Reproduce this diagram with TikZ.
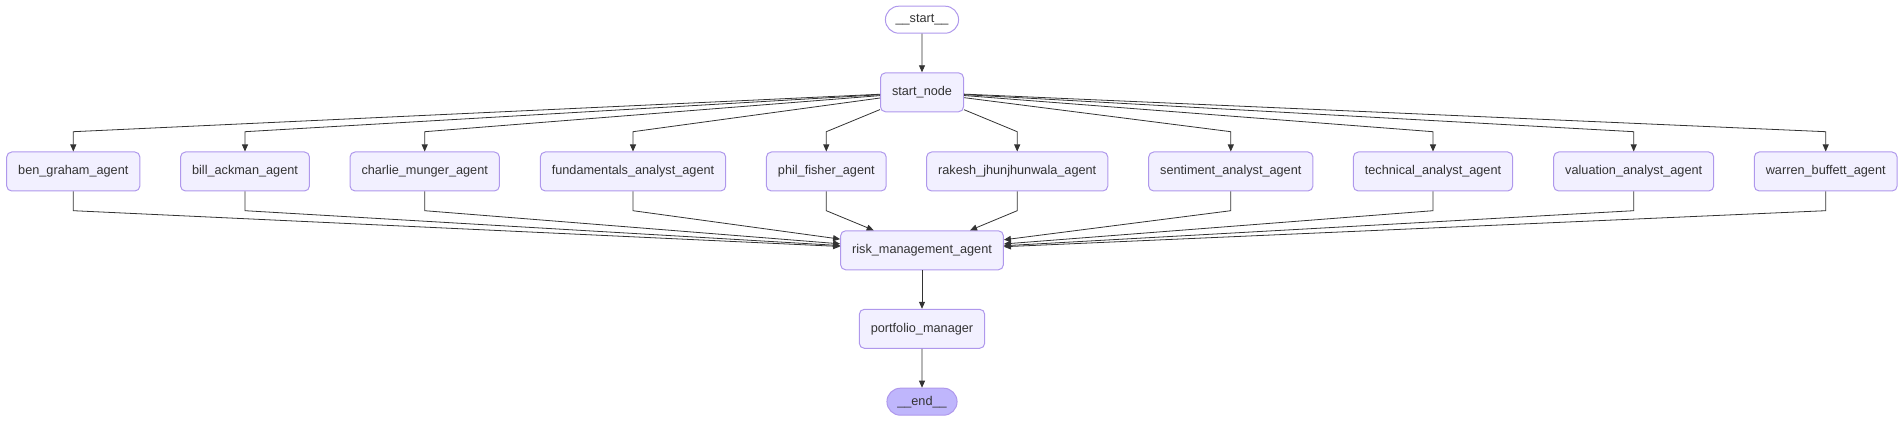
\documentclass[tikz,border=0pt]{standalone}
\usepackage{fontspec}
\setmainfont{Liberation Sans}
\usepackage{xcolor}
\usepackage{tikz}
\usetikzlibrary{arrows.meta, positioning, shapes.misc}

\definecolor{nodefill}{HTML}{F2F0FF}
\definecolor{nodeline}{HTML}{AF98EC}
\definecolor{endfill}{HTML}{BFB6FC}
\definecolor{ink}{HTML}{333333}

\begin{document}
\begin{tikzpicture}[x=1pt, y=-1pt,
  every node/.style={font=\fontsize{12.7}{15}\selectfont, text=ink},
  agent/.style={draw=nodeline, line width=1pt, fill=nodefill, rectangle, rounded corners=5pt,
    minimum height=39pt, inner xsep=11.5pt},
  term/.style={draw=nodeline, line width=1pt, rounded rectangle, minimum height=27pt, inner xsep=9pt},
  flow/.style={draw=ink, line width=0.8pt, -{Triangle[length=7pt, width=6pt]}}]
  \useasboundingbox (0,0) rectangle (1904,422);

  % top
  \node[term, fill=white] (start) at (922,19.7) {\_\_start\_\_};
  \node[agent] (startnode) at (922,92.3) {start\_node};

  % agents row
  \node[agent] (ben) at (73.3,171.5) {ben\_graham\_agent};
  \node[agent] (bill) at (245,171.5) {bill\_ackman\_agent};
  \node[agent] (charlie) at (424.7,171.5) {charlie\_munger\_agent};
  \node[agent] (fund) at (633,171.5) {fundamentals\_analyst\_agent};
  \node[agent] (phil) at (826.3,171.5) {phil\_fisher\_agent};
  \node[agent] (rakesh) at (1017.2,171.5) {rakesh\_jhunjhunwala\_agent};
  \node[agent] (senti) at (1230.8,171.5) {sentiment\_analyst\_agent};
  \node[agent] (tech) at (1433,171.5) {technical\_analyst\_agent};
  \node[agent] (valu) at (1633.7,171.5) {valuation\_analyst\_agent};
  \node[agent] (warren) at (1825.7,171.5) {warren\_buffett\_agent};

  % bottom
  \node[agent] (risk) at (922,250.3) {risk\_management\_agent};
  \node[agent] (port) at (922,328.8) {portfolio\_manager};
  \node[term, fill=endfill] (end) at (922,401.7) {\_\_end\_\_};

  \draw[flow] (start) -- (startnode);

  % fan out
  \draw[flow] (startnode) -- (ben.north |- 0,131.7) -- (ben);
  \draw[flow] (startnode) -- (bill.north |- 0,131.7) -- (bill);
  \draw[flow] (startnode) -- (charlie.north |- 0,131.7) -- (charlie);
  \draw[flow] (startnode) -- (fund.north |- 0,131.7) -- (fund);
  \draw[flow] (startnode) -- (phil.north |- 0,131.7) -- (phil);
  \draw[flow] (startnode) -- (rakesh.north |- 0,131.7) -- (rakesh);
  \draw[flow] (startnode) -- (senti.north |- 0,131.7) -- (senti);
  \draw[flow] (startnode) -- (tech.north |- 0,131.7) -- (tech);
  \draw[flow] (startnode) -- (valu.north |- 0,131.7) -- (valu);
  \draw[flow] (startnode) -- (warren.north |- 0,131.7) -- (warren);

  % fan in
  \draw[flow] (ben) -- (ben.south |- 0,210.7) -- (risk);
  \draw[flow] (bill) -- (bill.south |- 0,210.7) -- (risk);
  \draw[flow] (charlie) -- (charlie.south |- 0,210.7) -- (risk);
  \draw[flow] (fund) -- (fund.south |- 0,210.7) -- (risk);
  \draw[flow] (phil) -- (phil.south |- 0,210.7) -- (risk);
  \draw[flow] (rakesh) -- (rakesh.south |- 0,210.7) -- (risk);
  \draw[flow] (senti) -- (senti.south |- 0,210.7) -- (risk);
  \draw[flow] (tech) -- (tech.south |- 0,210.7) -- (risk);
  \draw[flow] (valu) -- (valu.south |- 0,210.7) -- (risk);
  \draw[flow] (warren) -- (warren.south |- 0,210.7) -- (risk);

  \draw[flow] (risk) -- (port);
  \draw[flow] (port) -- (end);
\end{tikzpicture}
\end{document}
